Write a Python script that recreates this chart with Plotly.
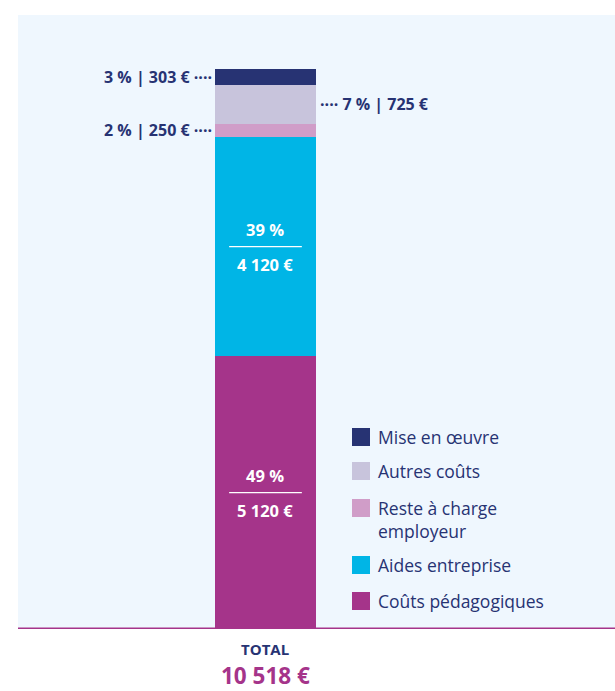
import plotly.graph_objects as go

categories = ["Coûts pédagogiques", "Aides entreprise", "Reste à charge employeur", "Autres coûts", "Mise en œuvre"]
legend_labels = ["Coûts pédagogiques", "Aides entreprise", "Reste à charge<br>employeur", "Autres coûts", "Mise en œuvre"]
values = [5120, 4120, 250, 725, 303]
colors = ["#A5348A", "#00B5E6", "#D09DC8", "#C8C4DC", "#273373"]
x_label = ["TOTAL"]

NAVY = "#273373"
MAGENTA = "#A5348A"
FONT = "Open Sans"

total = sum(values)


def fmt(v):
    return f"{v:,}".replace(",", " ") + " €"


def pct(v):
    return f"{round(100 * v / total)} %"


fig = go.Figure()
for cat, v, c in zip(categories, values, colors):
    fig.add_trace(go.Bar(
        x=[0], y=[v], name=cat, marker=dict(color=c, line=dict(width=0)),
        width=1, showlegend=False, hoverinfo="skip"))

annotations = []
shapes = []

bases = []
acc = 0
for v in values:
    bases.append(acc)
    acc += v

# inside labels (two big segments)
for i in (0, 1):
    mid = bases[i] + values[i] / 2
    annotations.append(dict(x=0, y=mid, xref="x", yref="y", text=f"<b>{pct(values[i])}</b>",
                            showarrow=False, yshift=17, font=dict(color="white", size=16.5, family=FONT)))
    annotations.append(dict(x=0, y=mid, xref="x", yref="y", text=f"<b>{fmt(values[i])}</b>",
                            showarrow=False, yshift=-18, font=dict(color="white", size=16.5, family=FONT)))
    shapes.append(dict(type="line", xref="x", yref="y", x0=-0.36, x1=0.36, y0=mid, y1=mid,
                       line=dict(color="white", width=1.2)))

# outside labels with dotted leaders
for i, side in ((2, "left"), (3, "right"), (4, "left")):
    mid = bases[i] + values[i] / 2
    txt = f"<b>{pct(values[i])} | {fmt(values[i])}</b>"
    if side == "left":
        annotations.append(dict(x=-0.5, y=mid, xref="x", yref="y", text=txt + " <b>····</b>",
                                showarrow=False, xanchor="right", xshift=-1,
                                font=dict(color=NAVY, size=16, family=FONT)))
    else:
        annotations.append(dict(x=0.5, y=mid, xref="x", yref="y", text="<b>····</b> " + txt,
                                showarrow=False, xanchor="left", xshift=2,
                                font=dict(color=NAVY, size=16, family=FONT)))

# total labels under the baseline
annotations.append(dict(x=0, y=0, xref="x", yref="y", text=f"<b>{x_label[0]}</b>", showarrow=False,
                        yanchor="top", yshift=-8, font=dict(color=NAVY, size=15, family=FONT)))
annotations.append(dict(x=0, y=0, xref="x", yref="y", text=f"<b>{fmt(total)}</b>", showarrow=False,
                        yanchor="top", yshift=-29, font=dict(color=MAGENTA, size=22.5, family=FONT)))

# custom legend
leg_y = [437, 471, 508, 565, 601]
plot_top, plot_bot = 15, 629
order = list(range(len(categories)))[::-1]
for k, i in enumerate(order):
    yp = leg_y[k]
    yc = 1 - (yp - plot_top) / (plot_bot - plot_top)
    sq = 18 / (plot_bot - plot_top)
    x0p = (352 - 18) / 597
    x1p = (370 - 18) / 597
    shapes.append(dict(type="rect", xref="paper", yref="paper", x0=x0p, x1=x1p,
                       y0=yc - sq / 2, y1=yc + sq / 2, fillcolor=colors[i], line=dict(width=0)))
    annotations.append(dict(x=(376 - 18) / 597, y=yc + sq / 2, xref="paper", yref="paper",
                            text=legend_labels[i], showarrow=False, xanchor="left", yanchor="top",
                            align="left", yshift=5,
                            font=dict(color=NAVY, size=17.5, family=FONT)))

shapes.append(dict(type="line", xref="paper", yref="y", x0=0, x1=1, y0=0, y1=0,
                   line=dict(color=MAGENTA, width=3)))

px_per = (629 - 69) / total
ymax = total + (69 - 15) / px_per

fig.update_layout(
    barmode="stack",
    width=615, height=691,
    margin=dict(l=18, r=0, t=15, b=62),
    paper_bgcolor="white",
    plot_bgcolor="#EFF7FE",
    xaxis=dict(range=[-2.45, 3.46], visible=False, fixedrange=True),
    yaxis=dict(range=[0, ymax], visible=False, fixedrange=True),
    annotations=annotations,
    shapes=shapes,
    font=dict(family=FONT, color=NAVY),
    showlegend=False,
)

fig.write_html(
    "out.html",
    config={"responsive": False, "displayModeBar": False},
    post_script="document.body.style.margin='0px';document.body.style.overflow='hidden';",
)
